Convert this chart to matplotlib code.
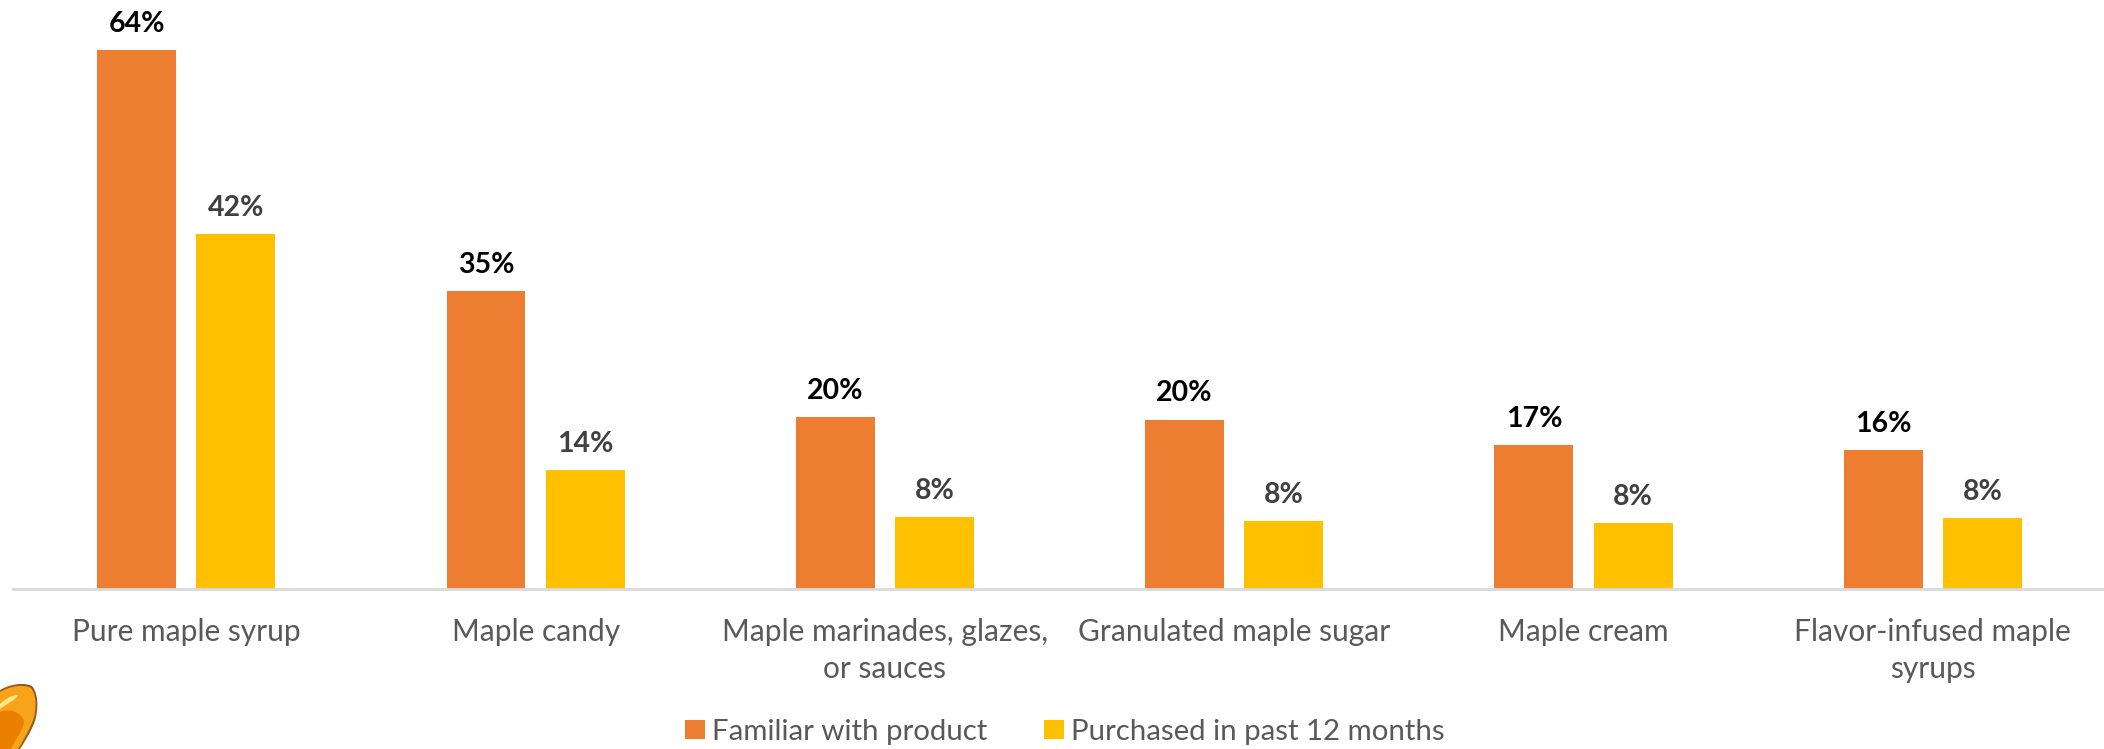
import matplotlib.pyplot as plt
from matplotlib.patches import PathPatch
from matplotlib.path import Path

categories = ['Pure maple syrup', 'Maple candy', 'Maple marinades, glazes,\nor sauces',
              'Granulated maple sugar', 'Maple cream', 'Flavor-infused maple\nsyrups']
familiar = [64, 35.4, 20.4, 20.1, 17.1, 16.45]
purchased = [42.2, 14.1, 8.45, 8.05, 7.75, 8.35]
series_names = ['Familiar with product', 'Purchased in past 12 months']

W, H = 2104, 749
plt.rcParams['font.family'] = ['Lato', 'DejaVu Sans']

fig = plt.figure(figsize=(W / 100, H / 100), dpi=100)
ax = fig.add_axes([13 / W, 1 - 588.5 / H, 1 - 13 / W, 588.5 / H])
ax.patch.set_alpha(0)

x = range(len(categories))
width = 0.226
offset = 0.142
bars1 = ax.bar([i - offset for i in x], familiar, width, color='#ED7D31', label=series_names[0])
bars2 = ax.bar([i + offset for i in x], purchased, width, color='#FFC000', label=series_names[1])

for bars, col in [(bars1, '#000000'), (bars2, '#404040')]:
    for b in bars:
        ax.annotate(f'{b.get_height():.0f}%', (b.get_x() + b.get_width() / 2, b.get_height()),
                    xytext=(0, 9.5), textcoords='offset points', ha='center', va='bottom',
                    fontsize=20.5, fontweight='bold', color=col, clip_on=False)

ax.set_xlim(-0.496, 5.49)
ax.set_ylim(0, 70)
ax.set_yticks([])
ax.set_xticks(list(x))
ax.set_xticklabels(categories, fontsize=21.5, color='#595959', linespacing=1.42)
ax.tick_params(axis='x', length=0, pad=21)
for s in ['top', 'left', 'right']:
    ax.spines[s].set_visible(False)
ax.spines['bottom'].set_color('#D9D9D9')
ax.spines['bottom'].set_linewidth(2)

fig.legend(loc='center', bbox_to_anchor=(1065 / W, 1 - 732 / H), ncol=2, frameon=False,
           fontsize=21.2, labelcolor='#595959', handlelength=0.67, handleheight=0.6,
           handletextpad=0.25, columnspacing=1.93, borderpad=0, borderaxespad=0)


def corner_shape(pts, col):
    # closed bezier outline given in pixel coordinates, first point is the start
    codes = [Path.MOVETO] + [Path.CURVE4] * (len(pts) - 1) + [Path.CLOSEPOLY]
    verts = [(a / W, 1 - b / H) for a, b in pts] + [(0, 0)]
    fig.add_artist(PathPatch(Path(verts, codes), transform=fig.transFigure,
                             facecolor=col, edgecolor='none'))


# syrup drop in the lower left corner
corner_shape([(0, 690), (10, 684), (24, 682), (32, 686), (40, 695), (38, 716), (33, 726),
              (29, 735), (24, 743), (20, 749), (12, 749), (6, 749), (0, 749)], '#9C5A1C')
corner_shape([(0, 692), (10, 686), (24, 684), (31, 688), (38, 697), (36, 716), (31, 725),
              (27, 734), (22, 743), (18, 749), (12, 749), (6, 749), (0, 749)], '#F7A41A')
corner_shape([(0, 712), (10, 708), (22, 712), (24, 722), (22, 732), (14, 742), (11, 749),
              (8, 749), (4, 749), (0, 749), (0, 740), (0, 725), (0, 712)], '#EC7F00')
corner_shape([(0, 704), (5, 699), (12, 695), (18, 695), (17, 699), (8, 703), (0, 709),
              (0, 708), (0, 706), (0, 704)], '#FFE88A')

fig.savefig('out.png', dpi=100)
